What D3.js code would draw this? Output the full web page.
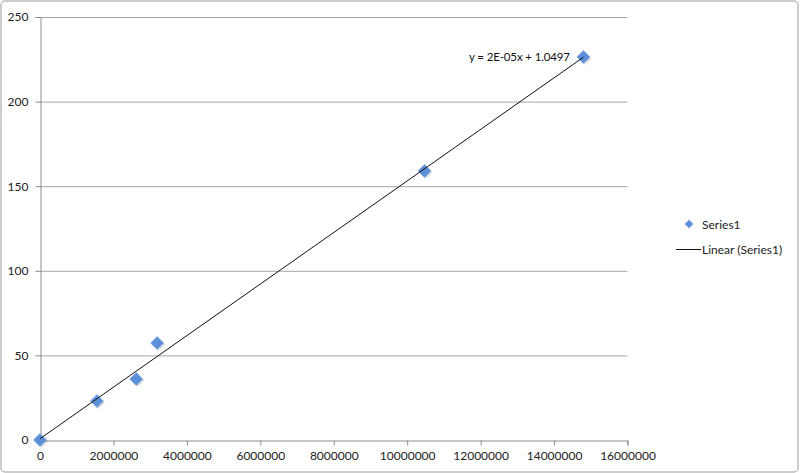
<!DOCTYPE html>
<html><head><meta charset="utf-8">
<script src="https://cdn.jsdelivr.net/npm/d3@7"></script>
<style>body{margin:0;background:#fff;}text{font-family:Lato,"Open Sans",sans-serif;}</style>
</head><body>
<script>
const xValues = [0, 1550000, 2620000, 3190000, 10470000, 14800000];
const yValues = [0, 23, 36, 57.3, 159, 226.4];
const xTicks = [0, 2000000, 4000000, 6000000, 8000000, 10000000, 12000000, 14000000, 16000000];
const yTicks = [0, 50, 100, 150, 200, 250];
const seriesName = "Series1";
const trendName = "Linear (Series1)";
const equationLabel = "y = 2E-05x + 1.0497";

const W = 800, H = 473;
const svg = d3.select("body").append("svg").attr("width", W).attr("height", H);
svg.append("rect").attr("x", 1).attr("y", 1).attr("width", W - 3).attr("height", H - 2)
  .attr("rx", 4).attr("fill", "#fff").attr("stroke", "#bdbdbd").attr("stroke-width", 1.5);

const x = d3.scaleLinear().domain([0, 16000000]).range([40, 627.5]);
const y = d3.scaleLinear().domain([0, 250]).range([440, 17]);

// gridlines
svg.append("g").selectAll("line").data(yTicks.filter(d => d > 0)).join("line")
  .attr("x1", x(0)).attr("x2", x(16000000)).attr("y1", d => y(d) + 0.5).attr("y2", d => y(d) + 0.5)
  .attr("stroke", "#a6a6a6").attr("stroke-width", 1);

const xAxis = svg.append("g").attr("transform", `translate(0,${y(0) + 0.5})`)
  .call(d3.axisBottom(x).tickValues(xTicks).tickFormat(d3.format("d")).tickSize(5).tickPadding(6));
const yAxis = svg.append("g").attr("transform", `translate(${x(0) + 0.5},0)`)
  .call(d3.axisLeft(y).tickValues(yTicks).tickSize(5).tickPadding(7));
[xAxis, yAxis].forEach(a => {
  a.select(".domain").attr("stroke", "#8c8c8c");
  a.selectAll(".tick line").attr("stroke", "#8c8c8c");
  a.selectAll("text").attr("font-size", 12).attr("fill", "#222");
});

// regression
const n = xValues.length;
const mx = d3.mean(xValues), my = d3.mean(yValues);
let sxy = 0, sxx = 0;
for (let i = 0; i < n; i++) { sxy += (xValues[i] - mx) * (yValues[i] - my); sxx += (xValues[i] - mx) ** 2; }
const slope = sxy / sxx, icpt = my - slope * mx;
const x0 = d3.min(xValues), x1 = d3.max(xValues);

// points: diamond = rotated square
const sq = d3.symbol().type(d3.symbolSquare).size(84);
const pts = svg.append("g");
pts.selectAll(".sh").data(d3.zip(xValues, yValues)).join("path")
  .attr("d", sq).attr("transform", d => `translate(${x(d[0]) + 1.5},${y(d[1]) + 1.5}) rotate(45)`)
  .attr("fill", "#000").attr("opacity", 0.13);
pts.selectAll(".pt").data(d3.zip(xValues, yValues)).join("path")
  .attr("d", sq).attr("transform", d => `translate(${x(d[0])},${y(d[1])}) rotate(45)`)
  .attr("fill", "#5b8fd8").attr("stroke", "#72a2e2").attr("stroke-width", 0.6);

svg.append("line").attr("x1", x(x0)).attr("y1", y(slope * x0 + icpt))
  .attr("x2", x(x1)).attr("y2", y(slope * x1 + icpt)).attr("stroke", "#111").attr("stroke-width", 1);

svg.append("text").attr("x", 469).attr("y", 61).attr("font-size", 11.5)
  .attr("textLength", 101).attr("fill", "#111").text(equationLabel);

// legend
svg.append("path").attr("d", d3.symbol().type(d3.symbolSquare).size(36))
  .attr("transform", "translate(689,224) rotate(45)").attr("fill", "#5b8fd8");
svg.append("text").attr("x", 702).attr("y", 228.5).attr("font-size", 12).attr("fill", "#222").text(seriesName);
svg.append("line").attr("x1", 676).attr("x2", 701).attr("y1", 249.5).attr("y2", 249.5).attr("stroke", "#111");
svg.append("text").attr("x", 702).attr("y", 254).attr("font-size", 12).attr("fill", "#222").text(trendName);
</script>
</body></html>
